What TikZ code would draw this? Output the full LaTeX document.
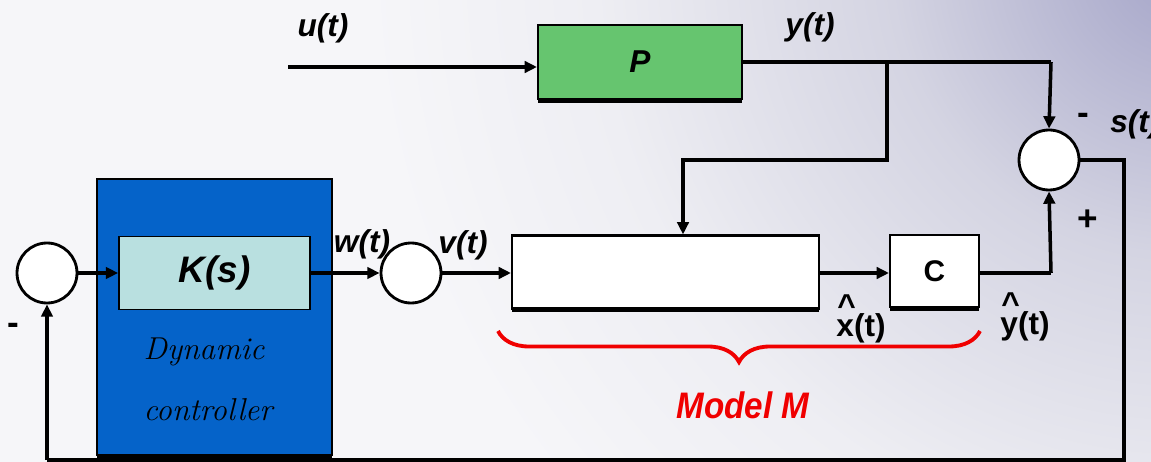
\documentclass[tikz,border=0pt]{standalone}
\usepackage{fontspec}
\setsansfont{Liberation Sans}
\usetikzlibrary{arrows.meta,decorations.pathreplacing,shadows}

\definecolor{bgbase}{RGB}{246,246,249}
\definecolor{bglav}{RGB}{164,164,200}
\definecolor{bgmid}{RGB}{212,212,226}
\definecolor{bgpale}{RGB}{238,238,243}
\definecolor{plantgreen}{RGB}{102,197,111}
\definecolor{ctrlblue}{RGB}{5,99,201}
\definecolor{kcyan}{RGB}{185,224,224}
\definecolor{modelred}{RGB}{240,0,0}

% soft glow for the upper right corner; 25bp is the rim of the shaded circle
\pgfdeclareradialshading{bgglow}{\pgfpoint{0bp}{0bp}}{%
  color(0bp)=(bglav); color(9bp)=(bgmid); color(18bp)=(bgpale);
  color(25bp)=(bgbase); color(50bp)=(bgbase)}

\tikzset{
  wire/.style={line width=2pt, black},
  arr/.style={wire, -{Triangle[length=7pt,width=6.5pt]}},
  blockbox/.style={draw=black, line width=1.2pt, rectangle, inner sep=0pt,
    drop shadow={shadow xshift=0pt, shadow yshift=-2.2pt, fill=black, opacity=1}},
  sumnode/.style={draw=black, fill=white, line width=1.6pt, circle,
    minimum size=1.2cm, inner sep=0pt},
  sig/.style={font=\sffamily\bfseries\itshape\fontsize{18}{18}\selectfont, inner sep=0pt},
  hatsig/.style={font=\sffamily\bfseries\fontsize{18}{18}\selectfont, inner sep=0pt},
  signlbl/.style={font=\sffamily\bfseries\fontsize{20}{20}\selectfont, inner sep=0pt},
  ctrltext/.style={font=\itshape\fontsize{18}{18}\selectfont, inner sep=0pt},
}

\newcommand{\hatted}[1]{\rlap{\raisebox{0.62em}{\kern0.03em\textasciicircum}}#1}

\begin{document}
\begin{tikzpicture}[x=0.02cm, y=-0.02cm]
  % canvas and background
  \useasboundingbox (0,0) rectangle (1151,462);
  \clip (0,0) rectangle (1151,462);
  \fill[bgbase] (0,0) rectangle (1151,462);
  \shade[shading=bgglow] (1185,-40) circle (820);

  % blocks
  \node[blockbox, fill=plantgreen, minimum width=4.08cm, minimum height=1.48cm,
        font=\sffamily\bfseries\itshape\fontsize{18}{18}\selectfont] (P) at (640,62) {P};
  \node[blockbox, fill=ctrlblue, minimum width=4.7cm, minimum height=5.52cm] (ctrl) at (214.5,317) {};
  \node[draw=black, line width=1pt, fill=kcyan, minimum width=3.82cm, minimum height=1.46cm,
        inner sep=0pt, font=\sffamily\bfseries\itshape\fontsize{21}{21}\selectfont] (K) at (214.5,273) {K(s)};
  \node[ctrltext] (dyn) at (204,352) {Dynamic};
  \node[ctrltext] (ctl) at (208,410) {controller};
  \node[blockbox, fill=white, minimum width=6.14cm, minimum height=1.46cm] (M) at (665.5,272) {};
  \node[blockbox, fill=white, minimum width=1.78cm, minimum height=1.44cm,
        font=\sffamily\bfseries\fontsize{17}{17}\selectfont] (C) at (934.5,271) {C};

  % summing junctions
  \node[sumnode] (lsum) at (47,273) {};
  \node[sumnode] (msum) at (411,273) {};
  \node[sumnode] (rsum) at (1049,160) {};

  % routing points
  \coordinate (uin) at (288,67);
  \coordinate (ybr) at (887,62);
  \coordinate (ytop) at (1051,62);
  \coordinate (ymid) at (887,160);
  \coordinate (mtop) at (683,160);
  \coordinate (yhat) at (1051,273);
  \coordinate (fbR) at (1124,460);
  \coordinate (fbL) at (47,460);

  % signal flow
  \draw[arr] (uin) -- (uin -| P.west);
  \draw[wire] (P.east |- ybr) -- (ytop);
  \draw[arr] (ytop) -- (rsum.north);
  \draw[arr] (ybr) -- (ymid) -- (mtop) -- (mtop |- M.north);
  \draw[arr] (lsum.east) -- (K.west);
  \draw[arr] (K.east) -- (msum.west);
  \draw[arr] (msum.east) -- (M.west |- msum);
  \draw[arr] (M.east |- msum) -- (C.west |- msum);
  \draw[wire] (C.east |- msum) -- (yhat);
  \draw[arr] (yhat) -- (rsum.south);
  \draw[wire] (rsum.east) -| (fbR) -- (fbL);
  \draw[arr] (fbL) -- (lsum.south);

  % model brace
  \draw[modelred, line width=2.2pt, decorate,
        decoration={brace, mirror, amplitude=0.62cm}] (498,331) -- (980,331);
  \node[font=\sffamily\bfseries\itshape\fontsize{21}{21}\selectfont, text=modelred,
        inner sep=0pt, xscale=0.9] (mlbl) at (743,405) {Model M};

  % signal labels
  \node[sig] (ulbl) at (323,28) {u(t)};
  \node[sig] (ylbl) at (810,27) {y(t)};
  \node[sig] (wlbl) at (362,244) {w(t)};
  \node[sig] (vlbl) at (463,245) {v(t)};
  \node[sig, anchor=west] (slbl) at (1110,124) {s(t)};
  \node[signlbl] (rminus) at (1083,119) {-};
  \node[signlbl] (rplus) at (1088,220) {+};
  \node[signlbl] (lminus) at (13,329) {-};
  \node[hatsig, anchor=base] (xhl) at (861,336) {\hatted{x}(t)};
  \node[hatsig, anchor=base] (yhl) at (1025,334) {\hatted{y}(t)};
\end{tikzpicture}
\end{document}
